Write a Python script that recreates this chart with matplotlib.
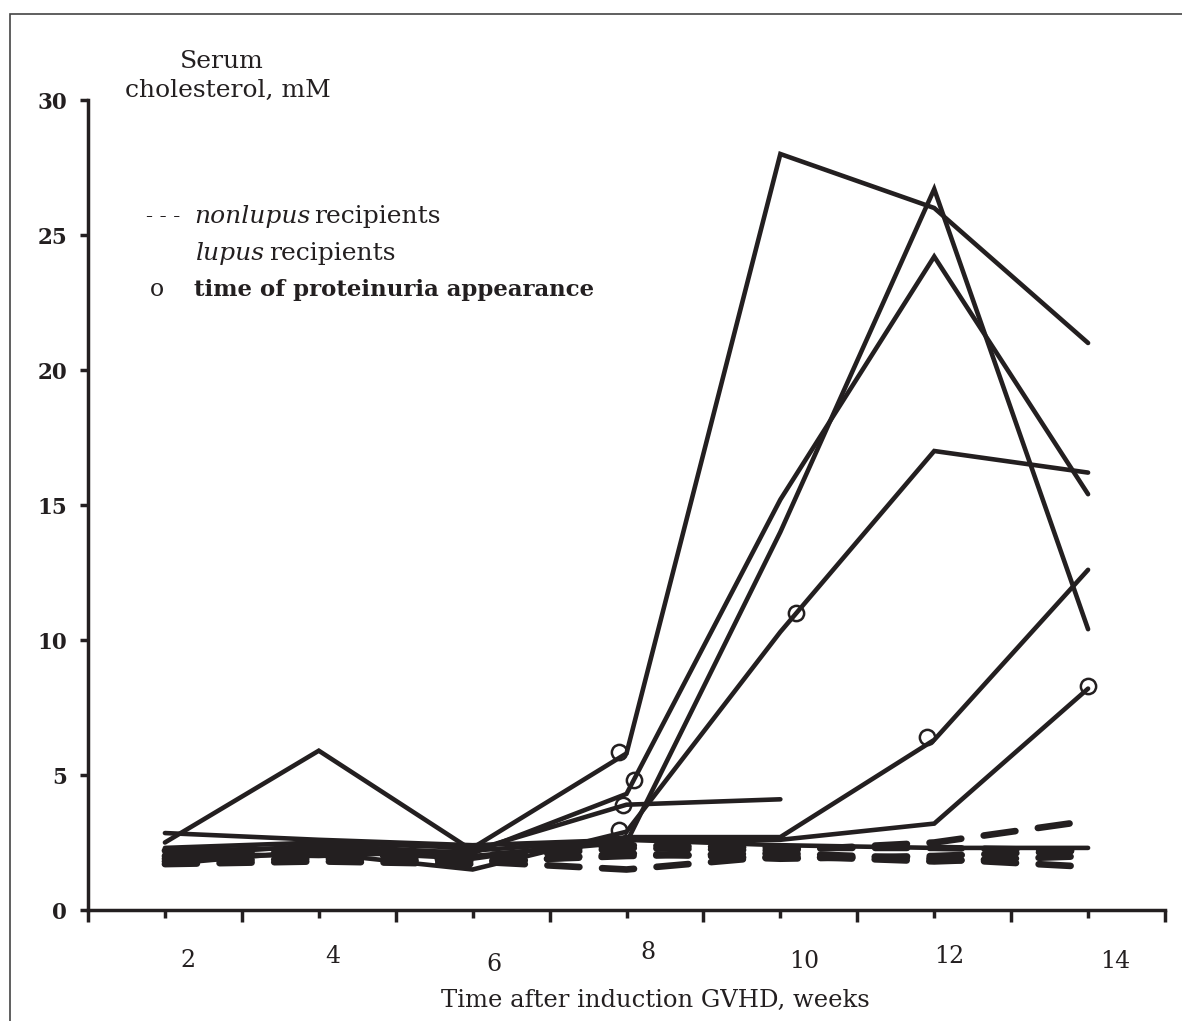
import matplotlib
matplotlib.use("Agg")
import matplotlib.pyplot as plt
from matplotlib.patches import Rectangle

# weeks after GVHD induction
weeks = [2, 4, 6, 8, 10, 12, 14]

# lupus recipients (solid lines), serum cholesterol, mM
lupus_a = [2.3, 2.5, 2.3, 5.8, 28.0, 26.0, 21.0]
lupus_b = [2.2, 2.3, 2.0, 2.5, 14.0, 26.7, 10.4]
lupus_c = [2.0, 2.4, 2.1, 4.3, 15.2, 24.2, 15.4]
lupus_d = [1.9, 2.1, 1.5, 2.9, 10.3, 17.0, 16.2]
lupus_e = [1.7, 2.2, 1.9, 2.7, 2.7, 6.3, 12.6]
lupus_f = [2.1, 2.0, 2.2, 2.6, 2.6, 3.2, 8.2]
lupus_g = [2.85, 2.6, 2.4, 2.6, 2.4, 2.3, 2.3]
lupus_h = [2.5, 5.9, 2.2, 3.9, 4.1]          # followed to week 10 only
lupus = [lupus_a, lupus_b, lupus_c, lupus_d, lupus_e, lupus_f, lupus_g, lupus_h]

# nonlupus recipients (dashed lines)
non_1 = [1.8, 1.9, 1.8, 1.5, 2.0, 1.8, 2.0]
non_2 = [2.0, 2.1, 1.9, 2.3, 2.2, 2.5, 3.3]
non_3 = [1.7, 1.8, 1.7, 2.1, 1.9, 2.0, 2.2]
non_4 = [2.2, 2.0, 2.0, 2.4, 2.3, 2.3, 2.2]
non_5 = [1.9, 2.2, 1.8, 2.0, 2.1, 1.9, 1.6]
nonlupus = [non_1, non_2, non_3, non_4, non_5]

# time of proteinuria appearance
prot_week = [7.9, 8.1, 7.95, 7.9, 10.2, 11.9, 14.0]
prot_value = [5.85, 4.8, 3.9, 2.95, 11.0, 6.4, 8.3]

xtick_labels = ["2", "4", "6", "8", "10", "12", "14"]

INK = "#231f20"
FONT = "DejaVu Serif"
W, H = 1182, 1021

plt.rcParams["font.family"] = FONT

fig = plt.figure(figsize=(W / 100, H / 100), dpi=100)
fig.patch.set_facecolor("white")


def fx(x):
    return x / W


def fy(y):
    return 1 - y / H


ax = fig.add_axes([fx(88), fy(910), 1077 / W, 810 / H])
ax.set_xlim(1, 15)
ax.set_ylim(0, 30)

for s in ("top", "right"):
    ax.spines[s].set_visible(False)
for s in ("left", "bottom"):
    ax.spines[s].set_linewidth(2.5)
    ax.spines[s].set_color(INK)

for vals in nonlupus:
    ax.plot(weeks[:len(vals)], vals, color=INK, lw=4.8,
            dashes=(4.8, 3.4), dash_capstyle="round", zorder=2)
for vals in lupus:
    ax.plot(weeks[:len(vals)], vals, color=INK, lw=3.3,
            solid_capstyle="round", solid_joinstyle="miter", zorder=3)
ax.plot(prot_week, prot_value, "o", ms=11, mfc="none", mec=INK, mew=1.8,
        zorder=4)

# y axis
ax.set_yticks(range(0, 31, 5))
ax.tick_params(axis="y", direction="out", length=6, width=2.5, color=INK,
               pad=9, labelsize=15.5, labelcolor=INK)
for t in ax.get_yticklabels():
    t.set_fontweight("bold")

# x axis: long ticks at odd weeks, short at even weeks
ax.set_xticks(range(1, 16, 2))
ax.set_xticks(weeks, minor=True)
ax.tick_params(axis="x", which="major", direction="out", length=8.5,
               width=2.5, color=INK, labelbottom=False)
ax.tick_params(axis="x", which="minor", direction="out", length=5.5,
               width=2.5, color=INK)
label_shift = [0.3, 0.18, 0.28, 0.28, 0.31, 0.2, 0.35]
label_drop = [-0.062, -0.058, -0.067, -0.053, -0.063, -0.058, -0.063]
for w, lab, dx, dy in zip(weeks, xtick_labels, label_shift, label_drop):
    ax.text(w + dx, dy, lab, transform=ax.get_xaxis_transform(),
            ha="center", va="center", fontsize=17, color=INK)

fig.text(fx(655), fy(1000), "Time after induction GVHD, weeks",
         ha="center", va="center", fontsize=17.5, color=INK)

fig.text(fx(222), fy(62), "Serum", ha="center", va="center",
         fontsize=18, color=INK)
fig.text(fx(228), fy(90), "cholesterol, mM", ha="center", va="center",
         fontsize=18, color=INK)

# legend written as text
fig.canvas.draw()
renderer = fig.canvas.get_renderer()


def chain(x, y, parts, gap=4):
    for txt, kw in parts:
        t = fig.text(fx(x), fy(y), txt, ha="left", va="center",
                     color=INK, **kw)
        bb = t.get_window_extent(renderer)
        x = bb.x1 + gap


fig.text(fx(146), fy(217), "- - -", ha="left", va="center", fontsize=15,
         color=INK)
chain(194, 217, [("nonlupus", dict(fontsize=18, style="italic")),
                 ("recipients", dict(fontsize=18))])
chain(196, 253, [("lupus", dict(fontsize=18, style="italic")),
                 ("recipients", dict(fontsize=18))])
fig.text(fx(150), fy(290), "o", ha="left", va="center", fontsize=17,
         color=INK)
fig.text(fx(194), fy(290), "time of proteinuria appearance", ha="left",
         va="center", fontsize=16.5, fontweight="bold", color=INK)

# thin frame around the figure (cut at right and bottom)
fig.add_artist(Rectangle((fx(10), -0.05), 1.2, fy(14) + 0.05,
                         transform=fig.transFigure, fill=False,
                         lw=1.2, ec="#444444"))

fig.savefig("out.png", dpi=100, facecolor="white")
